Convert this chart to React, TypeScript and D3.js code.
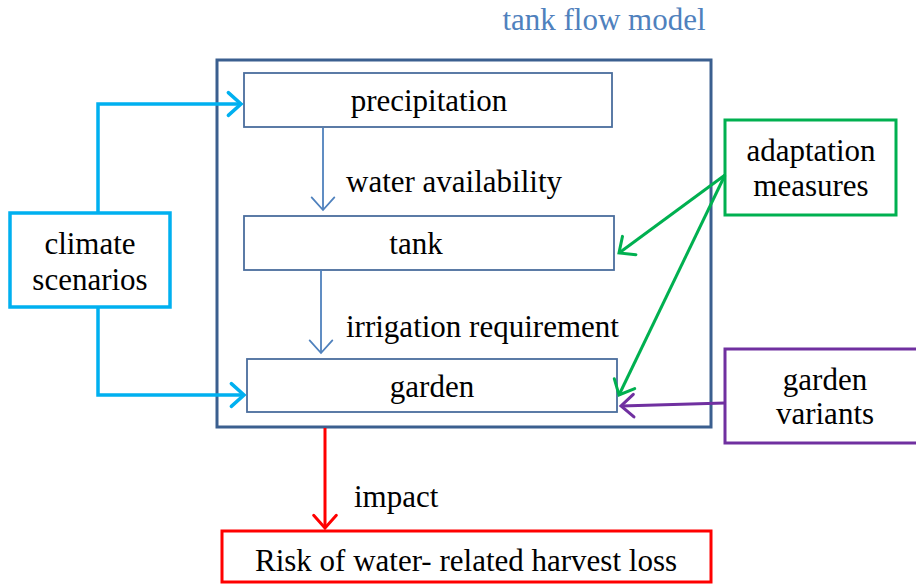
import * as React from "react";
import * as d3 from "d3";

const W = 916;
const H = 585;

// boxes: [id, x0, y0, x1, y1, color, stroke width]
const boxIds = ["model", "precip", "tank", "garden", "climate", "adapt", "variants", "risk"];
const boxX0 = [217, 244, 244, 247, 10, 725, 725, 222];
const boxY0 = [60, 73, 216, 359, 213, 120, 349, 531];
const boxX1 = [711, 612, 614, 617, 170, 896, 918, 711];
const boxY1 = [427, 127, 270, 412, 307, 215, 443, 582];
const boxColors = ["#3b5f8f", "#4a6d9d", "#4a6d9d", "#4a6d9d", "#00b0f0", "#00b050", "#7030a0", "#ff0000"];
const boxStroke = [3, 1.8, 1.8, 1.8, 3.5, 3, 3, 3];

// connectors as point lists, last point gets the arrowhead
const arrowPaths: [number, number][][] = [
  [[98, 213], [98, 104], [241, 104]],
  [[98, 307], [98, 395], [244, 395]],
  [[323, 128], [323, 210]],
  [[321, 270], [321, 353]],
  [[725, 175], [619, 253]],
  [[725, 175], [619, 395]],
  [[725, 403], [621, 406]],
  [[325, 428], [325, 528]],
];
const arrowColors = ["#00b0f0", "#00b0f0", "#4f81bd", "#4f81bd", "#00b050", "#00b050", "#7030a0", "#ff0000"];
const arrowStroke = [3.5, 3.5, 1.8, 1.8, 3, 3, 3, 3];

// text labels
const labelText = [
  "tank flow model", "precipitation", "water availability", "tank", "irrigation requirement", "garden",
  "climate", "scenarios", "adaptation", "measures", "garden", "variants", "impact",
  "Risk of water- related harvest loss",
];
const labelX = [604, 429, 346, 416, 346, 432, 90, 90, 811, 811, 825, 825, 354, 466];
const labelY = [19, 100, 181, 243, 326, 386, 243, 279, 150, 185, 379, 413, 496, 560];
const labelAnchor = ["middle", "middle", "start", "middle", "start", "middle", "middle", "middle",
  "middle", "middle", "middle", "middle", "start", "middle"];
const labelColor = ["#4f81bd", "#000", "#000", "#000", "#000", "#000", "#000", "#000",
  "#000", "#000", "#000", "#000", "#000", "#000"];

function App() {
  const ref = React.useRef<SVGSVGElement>(null);

  React.useEffect(() => {
    const svg = d3.select(ref.current);
    svg.selectAll("*").remove();

    svg.append("rect").attr("width", W).attr("height", H).attr("fill", "#fff");

    svg.selectAll("rect.box")
      .data(boxIds)
      .enter()
      .append("rect")
      .classed("box", true)
      .attr("x", (d, i) => boxX0[i])
      .attr("y", (d, i) => boxY0[i])
      .attr("width", (d, i) => boxX1[i] - boxX0[i])
      .attr("height", (d, i) => boxY1[i] - boxY0[i])
      .attr("fill", "none")
      .attr("stroke", (d, i) => boxColors[i])
      .attr("stroke-width", (d, i) => boxStroke[i]);

    const line = d3.line();
    const head = 17;
    arrowPaths.forEach((pts, i) => {
      svg.append("path")
        .attr("d", line(pts))
        .attr("fill", "none")
        .attr("stroke", arrowColors[i])
        .attr("stroke-width", arrowStroke[i]);
      // open V arrowhead at the last point
      const [x1, y1] = pts[pts.length - 1];
      const [x0, y0] = pts[pts.length - 2];
      const a = Math.atan2(y1 - y0, x1 - x0);
      const spread = Math.PI / 4.3;
      const left: [number, number] = [x1 - head * Math.cos(a - spread), y1 - head * Math.sin(a - spread)];
      const right: [number, number] = [x1 - head * Math.cos(a + spread), y1 - head * Math.sin(a + spread)];
      svg.append("path")
        .attr("d", line([left, [x1, y1], right]))
        .attr("fill", "none")
        .attr("stroke", arrowColors[i])
        .attr("stroke-width", arrowStroke[i])
        .attr("stroke-linecap", "round")
        .attr("stroke-linejoin", "miter");
    });

    svg.selectAll("text.label")
      .data(labelText)
      .enter()
      .append("text")
      .classed("label", true)
      .attr("x", (d, i) => labelX[i])
      .attr("y", (d, i) => labelY[i])
      .attr("dy", "0.35em")
      .attr("text-anchor", (d, i) => labelAnchor[i])
      .attr("fill", (d, i) => labelColor[i])
      .attr("font-family", "Liberation Serif, Times New Roman, DejaVu Serif, serif")
      .attr("font-size", 31)
      .text(d => d);
  }, []);

  return (
    <svg ref={ref} width={W} height={H}
      style={{ position: "absolute", left: 0, top: 0, display: "block" }} />
  );
}

export default App;
